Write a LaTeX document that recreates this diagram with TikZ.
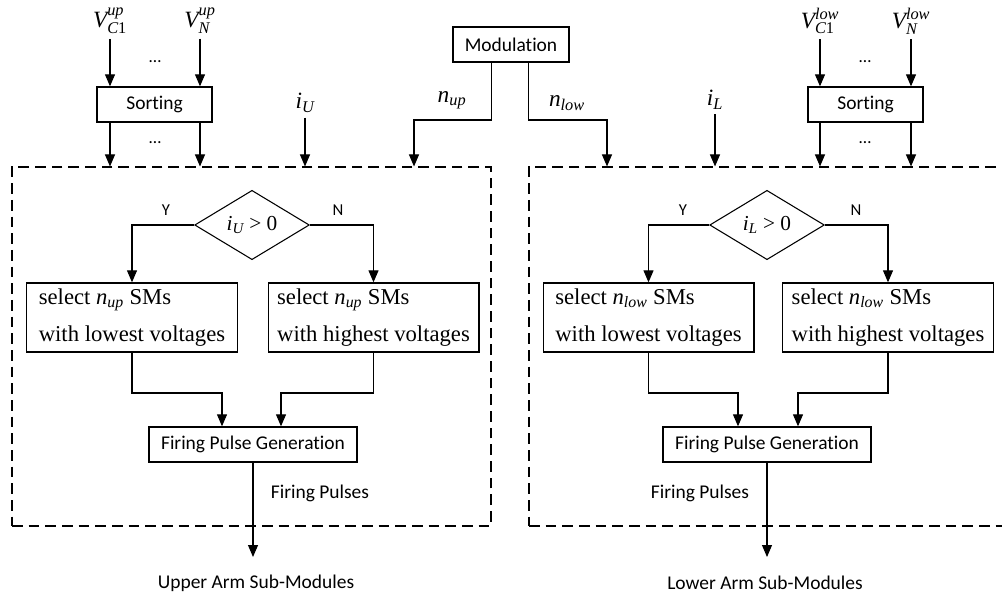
\documentclass[tikz,border=0pt]{standalone}
\usepackage{amsmath}
\usepackage{fontspec}
\setmainfont{Liberation Serif}
\setsansfont{Carlito}[Ligatures=NoCommon]
\usetikzlibrary{arrows.meta, shapes.geometric}

\begin{document}
\begin{tikzpicture}[x=0.75pt, y=-0.75pt, line width=0.8pt,
    arr/.style={-{Triangle[length=9pt, width=7.5pt]}},
    blk/.style={draw, line width=1pt, font=\sffamily\fontsize{14.6}{17}\selectfont,
      minimum height=26.25pt, inner sep=0pt},
    sel/.style={draw, line width=1pt, font=\fontsize{17}{27.75}\selectfont, align=left,
      minimum width=158pt, minimum height=51.75pt, inner sep=0pt},
    cond/.style={draw, diamond, font=\fontsize{16}{18}\selectfont,
      minimum width=86pt, minimum height=52pt, inner sep=0pt},
    armframe/.style={draw, dash pattern=on 8pt off 4.5pt,
      minimum width=359.25pt, minimum height=269.25pt, inner sep=0pt},
    yn/.style={font=\sffamily\fontsize{12.5}{14}\selectfont},
    lbl/.style={font=\fontsize{17.5}{20}\selectfont},
    txt/.style={font=\sffamily\fontsize{14.6}{17}\selectfont},
    ellip/.style={font=\sffamily\fontsize{13}{15}\selectfont}]
    \useasboundingbox (0,0) rectangle (1002,598);
    \clip (0,0) rectangle (1002,598);

    % dashed frames round the two arms
    \node[armframe] (frU) at (251.5,346.5) {};
    \node[armframe] (frL) at (768.5,346.5) {};

    % modulation block
    \node[blk, minimum width=87pt] (modu) at (511,44.5) {Modulation};
    \node[lbl] (nup) at (452,100) {$\textit{n}_{\textit{up}}$};
    \node[lbl] (nlow) at (567,103) {$\textit{n}_{\textit{low}}$};

    % upper arm inputs
    \node[lbl] (vcu) at (110,21) {$\textit{V}^{\textit{up}}_{\textit{C}\textup{1}}$};
    \node[lbl] (vnu) at (200,21) {$\textit{V}^{\textit{up}}_{\textit{N}}$};
    \node[ellip] (dotU1) at (155,62) {\dots};
    \node[blk, minimum width=86.25pt] (sortU) at (154.5,104.5) {Sorting};
    \node[ellip] (dotU2) at (155,143) {\dots};
    \node[lbl] (iU) at (305,103) {$\textit{i}_{\textit{U}}$};

    % lower arm inputs
    \node[lbl] (iL) at (715,100) {$\textit{i}_{\textit{L}}$};
    \node[lbl] (vcl) at (820,21) {$\textit{V}^{\textit{low}}_{\textit{C}\textup{1}}$};
    \node[lbl] (vnl) at (911,21) {$\textit{V}^{\textit{low}}_{\textit{N}}$};
    \node[ellip] (dotL1) at (865,62) {\dots};
    \node[blk, minimum width=86.25pt] (sortL) at (865.5,104.5) {Sorting};
    \node[ellip] (dotL2) at (865,143) {\dots};

    % upper arm selection
    \node[cond] (dU) at (252,225) {$\textit{i}_{\textit{U}}$ > 0};
    \node[yn] (yU) at (166,210) {Y};
    \node[yn] (nU) at (338,210) {N};
    \node[sel] (loU) at (132,317.5) {select $\textit{n}_{\textit{up}}$ SMs\\with lowest voltages};
    \node[sel] (hiU) at (373.5,317.5) {select $\textit{n}_{\textit{up}}$ SMs\\with highest voltages};
    \node[blk, minimum width=156pt] (fireU) at (253,444.5) {Firing Pulse Generation};
    \node[txt] (fpU) at (320,493) {Firing Pulses};
    \node[txt] (smU) at (256,583) {Upper Arm Sub-Modules};

    % lower arm selection
    \node[cond] (dL) at (767,225) {$\textit{i}_{\textit{L}}$ > 0};
    \node[yn] (yL) at (683,210) {Y};
    \node[yn] (nL) at (856,210) {N};
    \node[sel] (loL) at (648.5,317.5) {select $\textit{n}_{\textit{low}}$ SMs\\with lowest voltages};
    \node[sel] (hiL) at (888,317.5) {select $\textit{n}_{\textit{low}}$ SMs\\with highest voltages};
    \node[blk, minimum width=156pt] (fireL) at (767,444.5) {Firing Pulse Generation};
    \node[txt] (fpL) at (700,493) {Firing Pulses};
    \node[txt] (smL) at (765,583) {Lower Arm Sub-Modules};

    % bends and free ends
    \coordinate (kU) at (414,120);
    \coordinate (kL) at (607,120);
    \coordinate (mU1) at (222,393);
    \coordinate (mU2) at (281,393);
    \coordinate (mL1) at (738,393);
    \coordinate (mL2) at (798,393);
    \coordinate (oU) at (253,557);
    \coordinate (oL) at (767,557);

    % capacitor voltages through sorting
    \draw[arr] (vcu.south) -- (vcu |- sortU.north);
    \draw[arr] (vnu.south) -- (vnu |- sortU.north);
    \draw[arr] (vcu |- sortU.south) -- (vcu |- frU.north);
    \draw[arr] (vnu |- sortU.south) -- (vnu |- frU.north);
    \draw[arr] (vcl.south) -- (vcl |- sortL.north);
    \draw[arr] (vnl.south) -- (vnl |- sortL.north);
    \draw[arr] (vcl |- sortL.south) -- (vcl |- frL.north);
    \draw[arr] (vnl |- sortL.south) -- (vnl |- frL.north);

    % arm currents
    \draw[arr] (iU.south) -- (iU |- frU.north);
    \draw[arr] (iL.south) -- (iL |- frL.north);

    % inserted numbers from modulation
    \draw[arr] (modu.south -| frU.east) |- (kU) -- (kU |- frU.north);
    \draw[arr] (modu.south -| frL.west) |- (kL) -- (kL |- frL.north);

    % upper arm flow
    \draw[arr] (dU.west) -| (loU.north);
    \draw[arr] (dU.east) -| (hiU.north);
    \draw[arr] (loU.south) |- (mU1) -- (mU1 |- fireU.north);
    \draw[arr] (hiU.south) |- (mU2) -- (mU2 |- fireU.north);
    \draw[arr] (fireU.south) -- (oU);

    % lower arm flow
    \draw[arr] (dL.west) -| (loL.north);
    \draw[arr] (dL.east) -| (hiL.north);
    \draw[arr] (loL.south) |- (mL1) -- (mL1 |- fireL.north);
    \draw[arr] (hiL.south) |- (mL2) -- (mL2 |- fireL.north);
    \draw[arr] (fireL.south) -- (oL);
\end{tikzpicture}
\end{document}
